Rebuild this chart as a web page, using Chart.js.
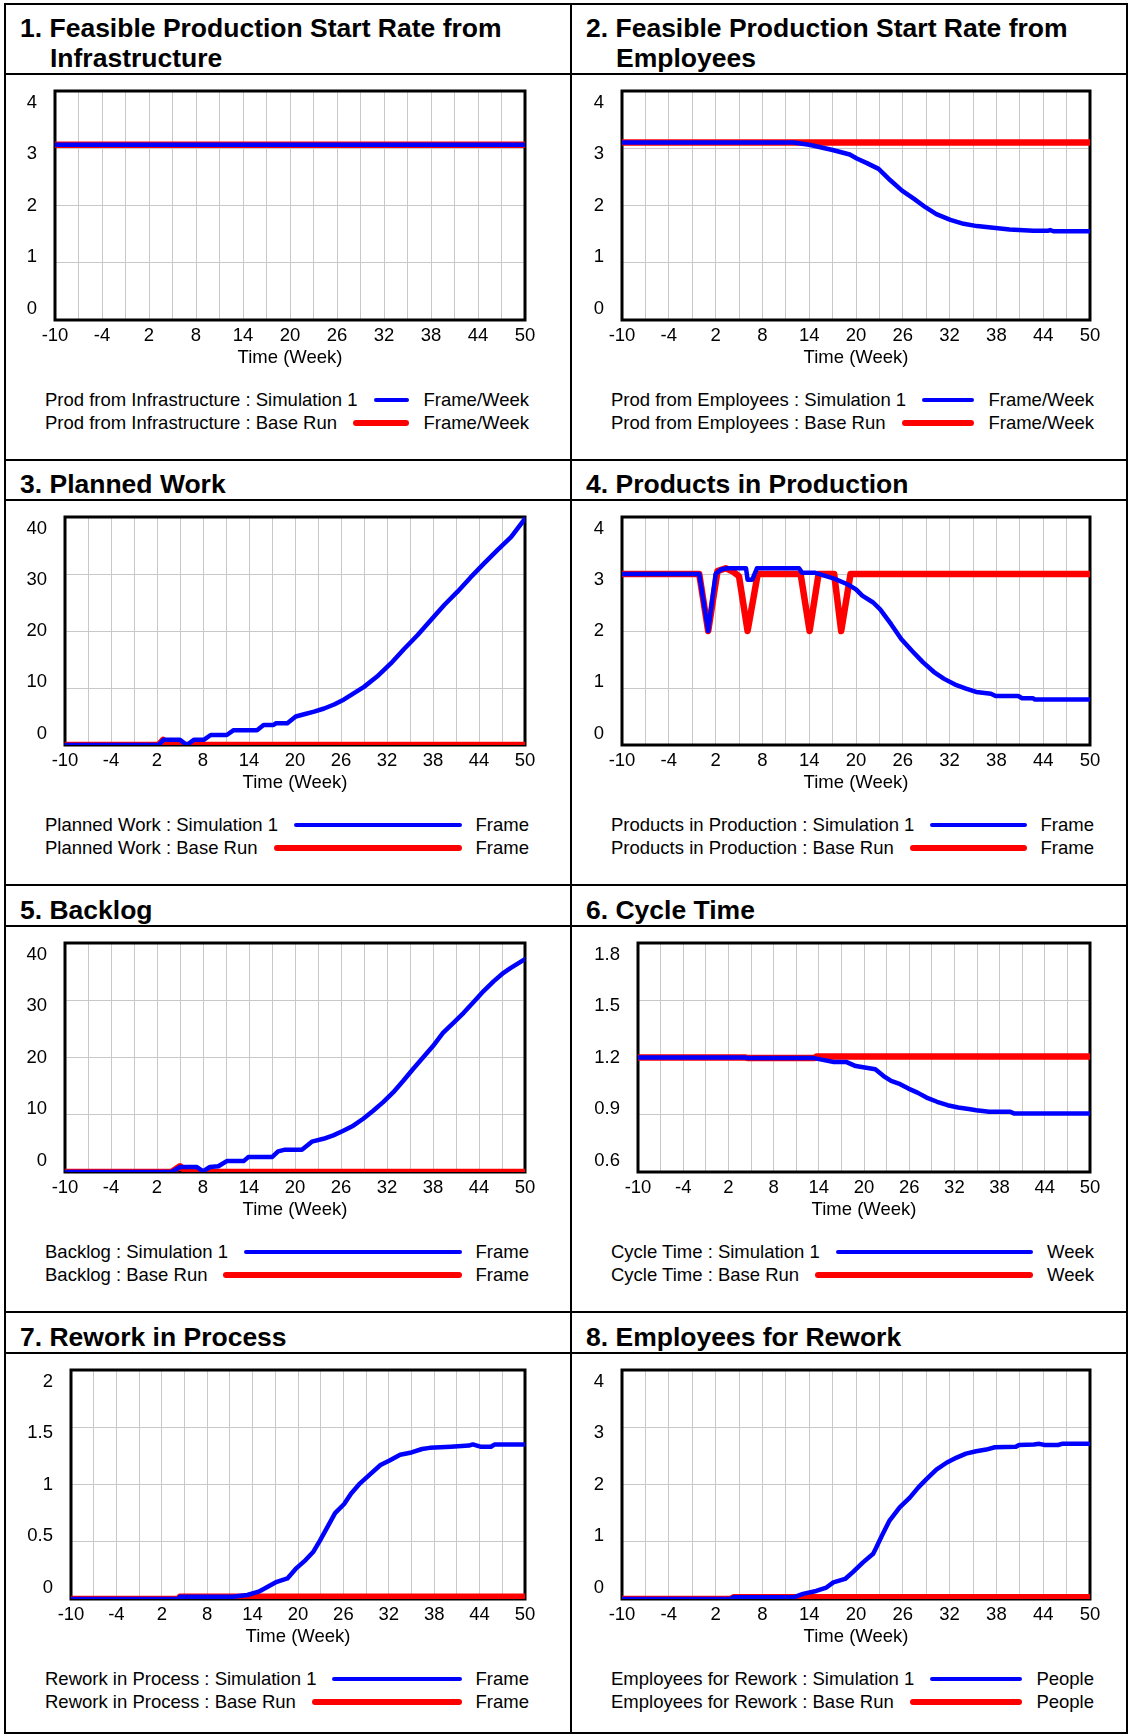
<!DOCTYPE html>
<html>
<head>
<meta charset="utf-8">
<title>Simulation results</title>
<script src="https://cdn.jsdelivr.net/npm/chart.js@4.4.0/dist/chart.umd.min.js"></script>
<style>
  html, body { margin: 0; padding: 0; background: #fff; }
  body { width: 1129px; height: 1735px; position: relative; overflow: hidden; font-family: "Liberation Sans", Arial, sans-serif; color: #000; }
  .rule { position: absolute; background: #000; }
  .title { position: absolute; font-weight: bold; font-size: 26.5px; line-height: 30px; padding-left: 30px; text-indent: -30px; white-space: nowrap; }
  .chart { position: absolute; }
  .legend { position: absolute; font-size: 18.5px; line-height: 23px; }
  .legend .row { display: flex; align-items: center; white-space: nowrap; }
  .legend .swatch { flex: 1; margin: 0 14px 0 16px; border-radius: 3px; }
</style>
</head>
<body>
<!-- outer frame, column and row rules -->
<div class="rule" style="left:4px;top:3px;width:1124px;height:2px"></div>
<div class="rule" style="left:4px;top:1732px;width:1124px;height:2px"></div>
<div class="rule" style="left:4px;top:3px;width:2px;height:1731px"></div>
<div class="rule" style="left:1126px;top:3px;width:2px;height:1731px"></div>
<div class="rule" style="left:570px;top:3px;width:2px;height:1731px"></div>
<div class="rule" style="left:4px;top:459px;width:1124px;height:2px"></div>
<div class="rule" style="left:4px;top:884px;width:1124px;height:2px"></div>
<div class="rule" style="left:4px;top:1311px;width:1124px;height:2px"></div>
<div class="rule" style="left:4px;top:73px;width:1124px;height:2px"></div>
<div class="rule" style="left:4px;top:499px;width:1124px;height:2px"></div>
<div class="rule" style="left:4px;top:925px;width:1124px;height:2px"></div>
<div class="rule" style="left:4px;top:1352px;width:1124px;height:2px"></div>

<script>
// x axis: grid every 3 weeks, labels every 6 weeks
const weekTicks = [-10, -7, -4, -1, 2, 5, 8, 11, 14, 17, 20, 23, 26, 29, 32, 35, 38, 41, 44, 47, 50];
const weekLabels = [-10, -4, 2, 8, 14, 20, 26, 32, 38, 44, 50];

// y axis ticks
const ticksRate = [0, 1, 2, 3, 4];
const ticksWork = [0, 10, 20, 30, 40];
const ticksCycle = [0.6, 0.9, 1.2, 1.5, 1.8];
const ticksRework = [0, 0.5, 1, 1.5, 2];

// series, [week, value]
const infraSim = [[-10, 3.06], [50, 3.06]];
const infraBase = [[-10, 3.06], [50, 3.06]];

const employeesSim = [[-10, 3.1], [12, 3.1], [14, 3.06], [17, 2.97], [19.2, 2.89], [20.1, 2.82], [21.4, 2.74], [22.9, 2.64],
  [24.4, 2.44], [25.9, 2.26], [27.4, 2.12], [28.9, 1.97], [30.3, 1.85], [32.1, 1.75], [33.8, 1.68], [35.5, 1.64],
  [37.6, 1.61], [39.7, 1.58], [42.7, 1.56], [44.6, 1.56], [44.9, 1.57], [45.3, 1.55], [50, 1.55]];
const employeesBase = [[-10, 3.1], [50, 3.1]];

const plannedSim = [[-10, 0], [2.2, 0], [2.85, 0.9], [5.0, 0.9], [5.9, 0], [6.8, 0.9], [8.1, 0.9], [9.0, 1.75], [11.1, 1.75],
  [12.0, 2.6], [15.05, 2.6], [15.9, 3.5], [17.2, 3.5], [17.5, 3.8], [19.0, 3.8], [20.1, 5.0], [21.2, 5.4], [22.5, 5.85],
  [23.8, 6.4], [25.1, 7.1], [26.4, 8.0], [27.7, 9.1], [29.0, 10.2], [30.7, 12.0], [32.5, 14.3], [34.2, 16.8], [36.0, 19.3],
  [37.7, 21.9], [39.5, 24.6], [41.2, 26.9], [42.9, 29.4], [44.7, 31.9], [46.4, 34.2], [48.2, 36.5], [50, 39.7]];
const plannedBase = [[-10, 0], [2.2, 0], [2.8, 0.9], [3.6, 0], [50, 0]];

const productsSim = [[-10, 3], [-0.1, 3], [1.05, 2.0], [2.0, 3.0], [2.7, 3.08], [3.5, 3.1], [5.9, 3.1], [6.1, 2.9], [6.7, 2.9],
  [7.3, 3.1], [12.7, 3.1], [13.1, 3.02], [14.8, 3.02], [17.2, 2.92], [18.9, 2.82], [20.0, 2.73], [20.8, 2.62], [22.2, 2.5],
  [23.1, 2.38], [24.5, 2.12], [25.8, 1.86], [27.2, 1.65], [28.6, 1.45], [30.0, 1.28], [31.3, 1.16], [32.7, 1.06],
  [34.1, 0.99], [35.4, 0.93], [37.3, 0.9], [37.9, 0.86], [40.8, 0.86], [41.3, 0.82], [42.7, 0.82], [42.9, 0.8], [50, 0.8]];
const productsBase = [[-10, 3], [-0.1, 3], [1.05, 2.0], [2.24, 3.05], [3.3, 3.1], [4.15, 3.05], [5.0, 2.96], [6.1, 2.0],
  [7.4, 3.0], [12.9, 3.0], [14.05, 2.0], [15.2, 3.0], [17.2, 3.0], [18.1, 2.0], [19.3, 3.0], [50, 3.0]];

const backlogSim = [[-10, 0], [3.9, 0], [5.0, 0.87], [7.2, 0.87], [8.0, 0.1], [8.9, 0.87], [10.0, 1.0], [11.1, 1.9], [13.3, 1.9],
  [13.9, 2.6], [17.0, 2.6], [17.8, 3.6], [18.7, 3.9], [20.9, 3.9], [22.2, 5.3], [23.7, 5.8], [25.0, 6.4], [26.3, 7.2],
  [27.6, 8.1], [28.9, 9.3], [30.2, 10.7], [31.5, 12.2], [32.8, 13.9], [34.1, 15.9], [35.4, 18.0], [36.7, 20.0], [38.0, 22.0],
  [39.3, 24.3], [40.7, 26.1], [42.0, 27.8], [43.3, 29.7], [44.6, 31.6], [45.9, 33.3], [47.2, 34.8], [48.1, 35.6], [50, 37.2]];
const backlogBase = [[-10, 0], [3.9, 0], [5.0, 1.0], [5.9, 0], [50, 0]];

const cycleSim = [[-10, 1.2], [4.2, 1.2], [4.5, 1.198], [13.2, 1.198], [14.2, 1.19], [16.0, 1.176], [17.7, 1.176], [18.9, 1.155],
  [20.3, 1.146], [21.5, 1.138], [22.6, 1.103], [23.6, 1.077], [24.8, 1.06], [25.9, 1.037], [27.1, 1.016], [28.3, 0.99],
  [29.7, 0.968], [31.1, 0.95], [32.5, 0.938], [33.9, 0.93], [34.9, 0.924], [36.6, 0.916], [39.4, 0.916], [39.9, 0.907], [50, 0.907]];
const cycleBase = [[-10, 1.2], [4.2, 1.2], [4.5, 1.198], [13.5, 1.198], [13.7, 1.205], [50, 1.205]];

const reworkSim = [[-10, 0], [4.2, 0], [4.4, 0.02], [11.4, 0.02], [13.3, 0.035], [14.8, 0.064], [16.0, 0.107], [17.2, 0.15],
  [18.6, 0.18], [19.8, 0.27], [21.0, 0.34], [22.0, 0.41], [22.9, 0.51], [23.9, 0.63], [24.9, 0.75], [26.1, 0.83], [27.0, 0.92],
  [28.2, 1.01], [29.7, 1.1], [30.9, 1.17], [32.1, 1.21], [33.5, 1.26], [35.0, 1.28], [36.4, 1.31], [37.4, 1.32], [40.2, 1.33],
  [42.6, 1.34], [43.1, 1.35], [44.1, 1.33], [45.5, 1.33], [46.0, 1.35], [50, 1.35]];
const reworkBase = [[-10, 0], [4.2, 0], [4.4, 0.02], [50, 0.02]];

const staffSim = [[-10, 0], [3.9, 0], [4.3, 0.03], [12.0, 0.03], [13.2, 0.09], [14.9, 0.14], [16.2, 0.2], [17.1, 0.29],
  [18.6, 0.35], [19.6, 0.47], [20.9, 0.64], [22.2, 0.79], [22.6, 0.9], [23.3, 1.1], [24.3, 1.37], [25.6, 1.6], [26.9, 1.77],
  [28.0, 1.95], [29.0, 2.09], [30.3, 2.26], [31.6, 2.38], [32.9, 2.47], [34.1, 2.54], [35.4, 2.58], [36.7, 2.61], [37.8, 2.65],
  [40.5, 2.66], [40.9, 2.69], [42.8, 2.7], [43.5, 2.71], [44.2, 2.69], [45.9, 2.69], [46.4, 2.71], [50, 2.71]];
const staffBase = [[-10, 0], [3.9, 0], [4.3, 0.03], [50, 0.03]];

// panels in reading order
const panels = [
  { title: "1. Feasible Production Start Rate from<br>Infrastructure", name: "Prod from Infrastructure", unit: "Frame/Week", ticks: ticksRate, sim: infraSim, base: infraBase },
  { title: "2. Feasible Production Start Rate from<br>Employees", name: "Prod from Employees", unit: "Frame/Week", ticks: ticksRate, sim: employeesSim, base: employeesBase },
  { title: "3. Planned Work", name: "Planned Work", unit: "Frame", ticks: ticksWork, sim: plannedSim, base: plannedBase },
  { title: "4. Products in Production", name: "Products in Production", unit: "Frame", ticks: ticksRate, sim: productsSim, base: productsBase },
  { title: "5. Backlog", name: "Backlog", unit: "Frame", ticks: ticksWork, sim: backlogSim, base: backlogBase },
  { title: "6. Cycle Time", name: "Cycle Time", unit: "Week", ticks: ticksCycle, sim: cycleSim, base: cycleBase },
  { title: "7. Rework in Process", name: "Rework in Process", unit: "Frame", ticks: ticksRework, sim: reworkSim, base: reworkBase },
  { title: "8. Employees for Rework", name: "Employees for Rework", unit: "People", ticks: ticksRate, sim: staffSim, base: staffBase }
];

// page layout: column, title top, plot rectangle
const boxes = [
  { col: 0, titleTop: 13, left: 55, right: 525, top: 91, bottom: 320 },
  { col: 1, titleTop: 13, left: 622, right: 1090, top: 91, bottom: 320 },
  { col: 0, titleTop: 469, left: 65, right: 525, top: 517, bottom: 745 },
  { col: 1, titleTop: 469, left: 622, right: 1090, top: 517, bottom: 745 },
  { col: 0, titleTop: 895, left: 65, right: 525, top: 943, bottom: 1172 },
  { col: 1, titleTop: 895, left: 638, right: 1090, top: 943, bottom: 1172 },
  { col: 0, titleTop: 1322, left: 71, right: 525, top: 1370, bottom: 1599 },
  { col: 1, titleTop: 1322, left: 622, right: 1090, top: 1370, bottom: 1599 }
];

const SIM_COLOR = "#0000ff";
const BASE_COLOR = "#ff0000";

Chart.defaults.font.family = '"Liberation Sans", Arial, sans-serif';
Chart.defaults.font.size = 18.5;
Chart.defaults.color = "#000";

// black frame round the plot area, under the lines
const plotFrame = {
  id: "plotFrame",
  beforeDatasetsDraw(chart) {
    const { ctx, chartArea } = chart;
    ctx.save();
    ctx.strokeStyle = "#000";
    ctx.lineWidth = 3;
    ctx.strokeRect(chartArea.left, chartArea.top, chartArea.right - chartArea.left, chartArea.bottom - chartArea.top);
    ctx.restore();
  }
};

function toPoints(pairs) {
  return pairs.map(([x, y]) => ({ x: x, y: y }));
}

function addLegend(panel, box, colLeft) {
  const legend = document.createElement("div");
  legend.className = "legend";
  legend.style.left = (colLeft + 39) + "px";
  legend.style.top = (box.bottom + 68) + "px";
  legend.style.width = (box.right + 4 - colLeft - 39) + "px";
  const rows = [
    { text: panel.name + " : Simulation 1", color: SIM_COLOR, height: 4 },
    { text: panel.name + " : Base Run", color: BASE_COLOR, height: 6 }
  ];
  rows.forEach(r => {
    legend.innerHTML += `
      <div class="row">
        <span>${r.text}</span>
        <span class="swatch" style="background:${r.color};height:${r.height}px"></span>
        <span>${panel.unit}</span>
      </div>`;
  });
  document.body.appendChild(legend);
}

function renderPanel(panel, box) {
  const colLeft = box.col === 0 ? 6 : 572;
  // top padding must cover the label axis padding (label half height + tick padding)
  const padTop = 34, padRight = 24, axisHeight = 50;

  const title = document.createElement("div");
  title.className = "title";
  title.style.left = (colLeft + 14) + "px";
  title.style.top = box.titleTop + "px";
  title.innerHTML = panel.title;
  document.body.appendChild(title);

  const canvas = document.createElement("canvas");
  canvas.className = "chart";
  canvas.width = box.right + padRight - colLeft;
  canvas.height = box.bottom - box.top + padTop + axisHeight;
  canvas.style.left = colLeft + "px";
  canvas.style.top = (box.top - padTop) + "px";
  document.body.appendChild(canvas);

  const ticks = panel.ticks;
  const yMin = ticks[0];
  const yMax = ticks[ticks.length - 1];
  const labelPad = (yMax - yMin) * 0.0556; // labels sit a little inside the frame

  new Chart(canvas, {
    type: "line",
    data: {
      datasets: [
        {
          label: panel.name + " : Simulation 1",
          data: toPoints(panel.sim),
          borderColor: SIM_COLOR,
          borderWidth: 4.5,
          pointRadius: 0,
          tension: 0,
          borderCapStyle: "round",
          borderJoinStyle: "round",
          yAxisID: "y"
        },
        {
          label: panel.name + " : Base Run",
          data: toPoints(panel.base),
          borderColor: BASE_COLOR,
          borderWidth: 6.5,
          pointRadius: 0,
          tension: 0,
          borderCapStyle: "round",
          borderJoinStyle: "round",
          yAxisID: "y"
        }
      ]
    },
    options: {
      responsive: false,
      animation: false,
      layout: { padding: { top: padTop, right: padRight, left: 0, bottom: 0 } },
      plugins: { legend: { display: false }, tooltip: { enabled: false } },
      scales: {
        x: {
          type: "linear",
          min: -10,
          max: 50,
          afterBuildTicks: axis => { axis.ticks = weekTicks.map(v => ({ value: v })); },
          afterFit: axis => { axis.height = axisHeight; },
          grid: { color: "#c8c8c8", lineWidth: 1, drawTicks: false },
          border: { display: false },
          ticks: {
            padding: 5,
            autoSkip: false,
            maxRotation: 0,
            callback: value => weekLabels.includes(value) ? String(value) : ""
          },
          title: { display: true, text: "Time (Week)", padding: { top: 0, bottom: 1 } }
        },
        y: {
          type: "linear",
          position: "left",
          min: yMin,
          max: yMax,
          afterBuildTicks: axis => { axis.ticks = ticks.map(v => ({ value: v })); },
          afterFit: axis => { axis.width = 0; },
          grid: { color: "#c8c8c8", lineWidth: 1, drawTicks: false },
          border: { display: false },
          ticks: { display: false }
        },
        yl: {
          type: "linear",
          position: "left",
          min: yMin - labelPad,
          max: yMax + labelPad,
          afterBuildTicks: axis => { axis.ticks = ticks.map(v => ({ value: v })); },
          afterFit: axis => { axis.width = box.left - colLeft; },
          grid: { display: false, drawTicks: false },
          border: { display: false },
          ticks: { padding: 18, callback: value => String(value) }
        }
      }
    },
    plugins: [plotFrame]
  });

  addLegend(panel, box, colLeft);
}

panels.forEach((panel, i) => renderPanel(panel, boxes[i]));
</script>
</body>
</html>
